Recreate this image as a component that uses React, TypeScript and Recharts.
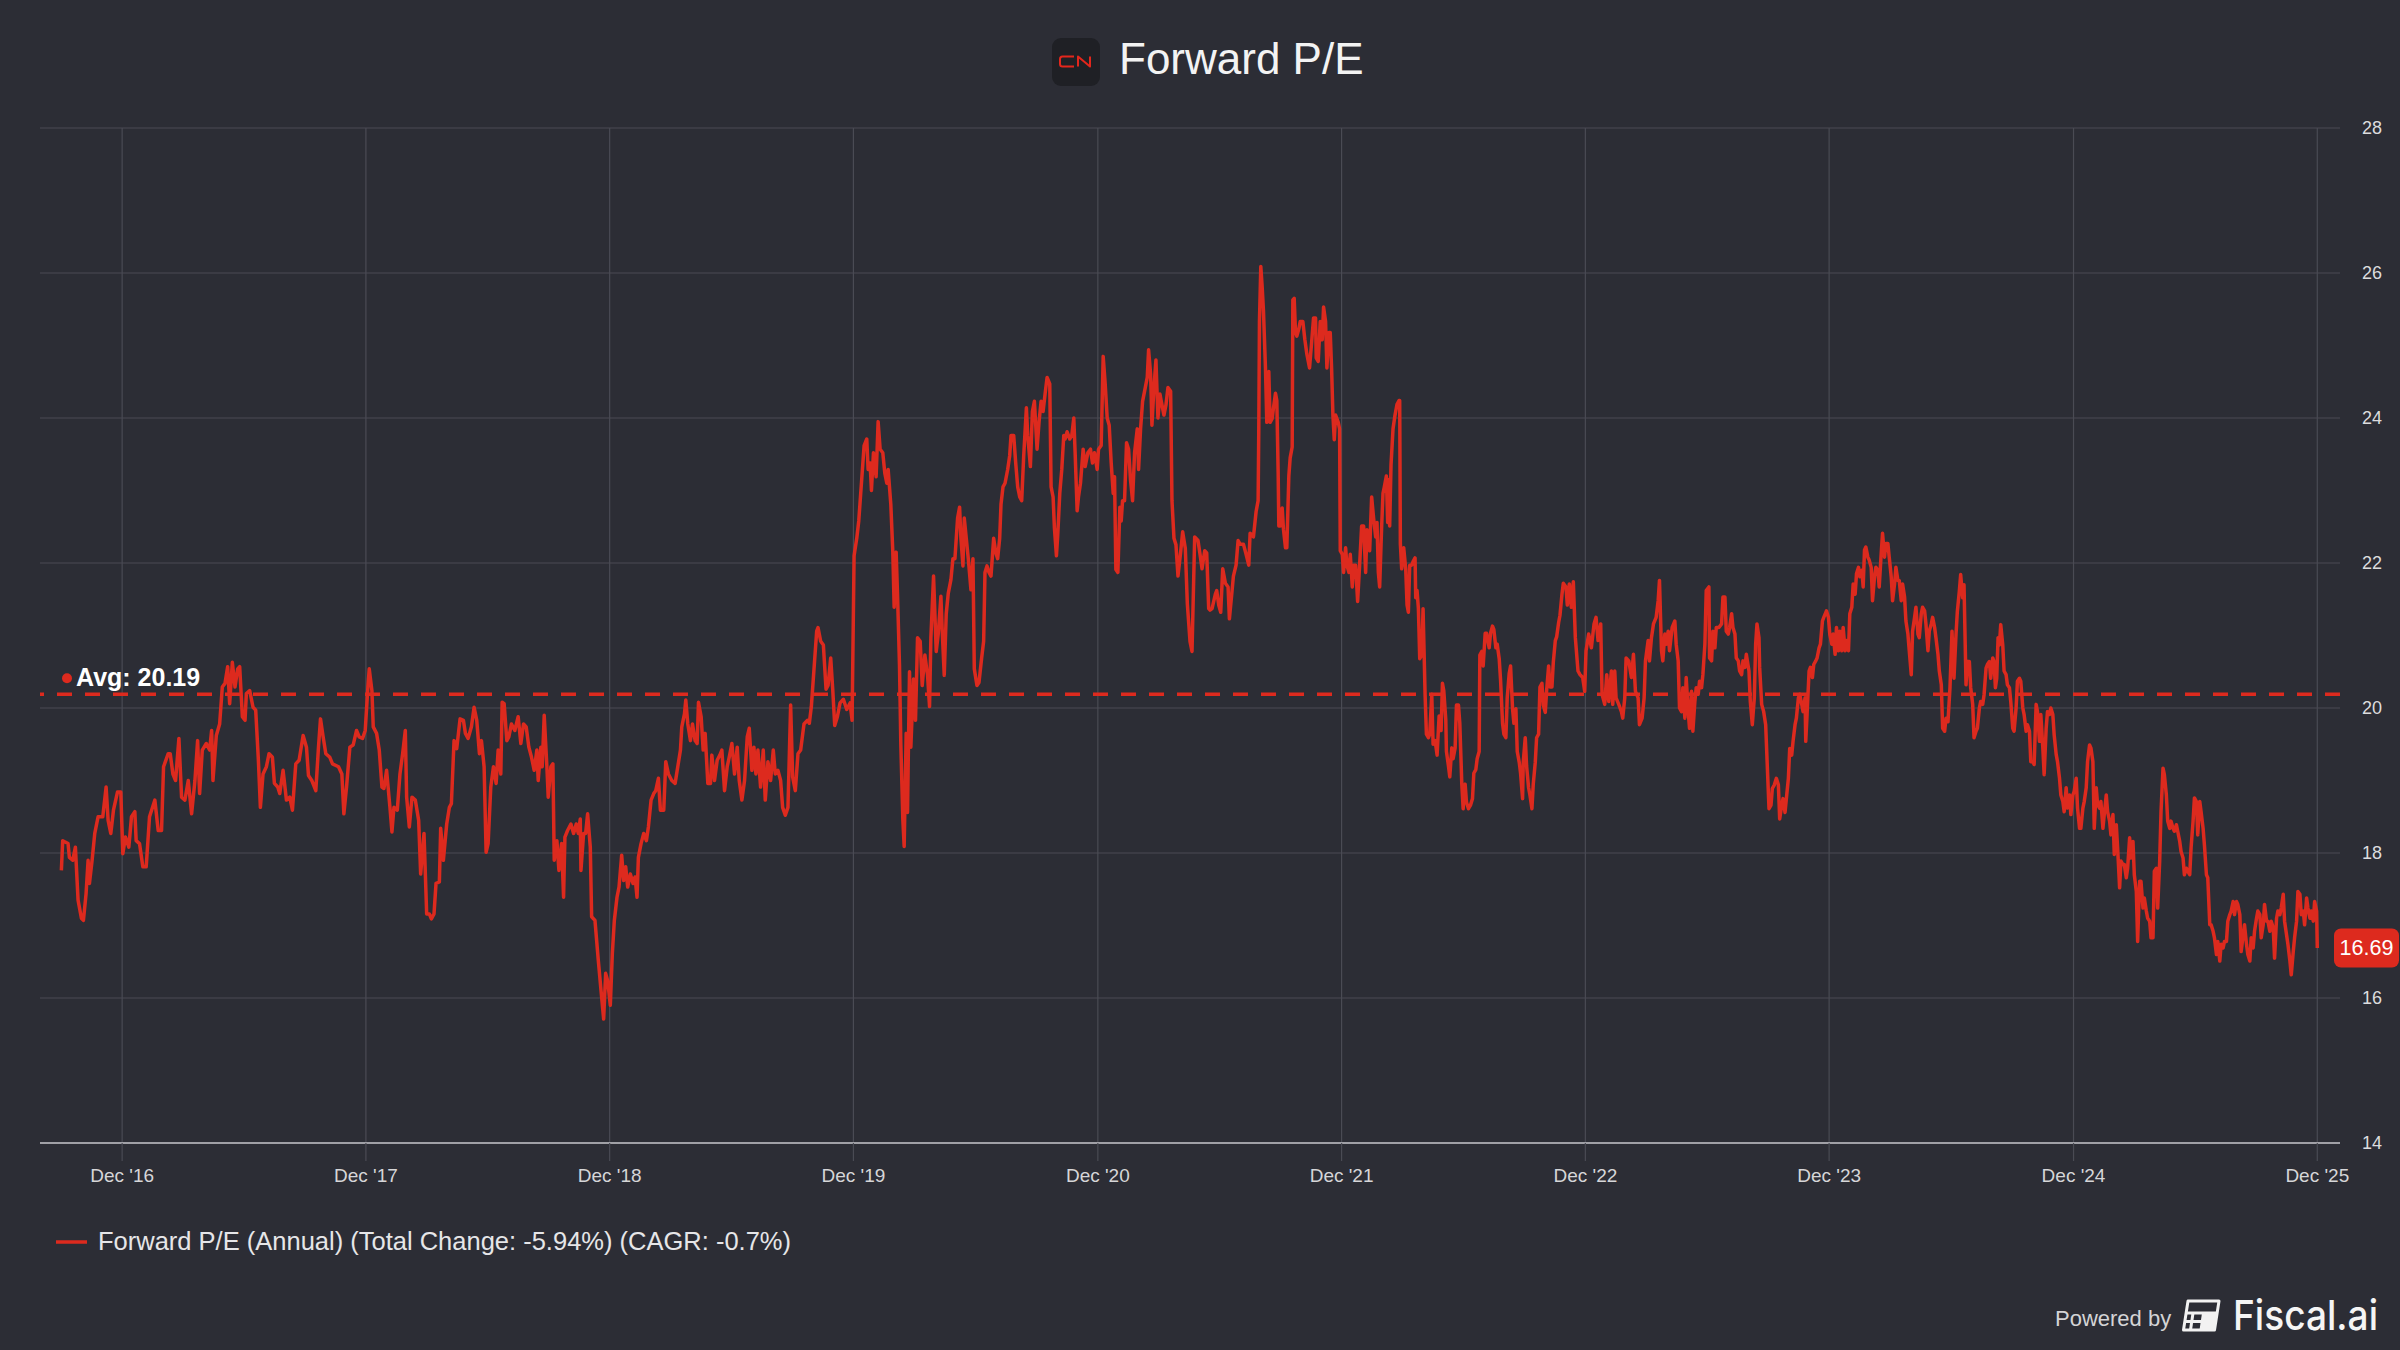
import React from "react";
import { LineChart, Line, XAxis, YAxis, CartesianGrid, ReferenceLine } from "recharts";

const BG = "#2c2d35";
const RED = "#dd2a1e";
const GRID = "#4a4b54";
const FONT = "'Liberation Sans', Arial, Helvetica, sans-serif";

const pe2016: [string, number][] = [
  ["2016-09-01", 17.76], ["2016-09-03", 18.17], ["2016-09-11", 18.13], ["2016-09-13", 17.94], ["2016-09-18", 17.9],
  ["2016-09-22", 18.08], ["2016-09-26", 17.35], ["2016-10-01", 17.1], ["2016-10-04", 17.07], ["2016-10-08", 17.44],
  ["2016-10-11", 17.9], ["2016-10-13", 17.58], ["2016-10-17", 17.9], ["2016-10-21", 18.27], ["2016-10-26", 18.5],
  ["2016-11-02", 18.5], ["2016-11-07", 18.91], ["2016-11-10", 18.45], ["2016-11-14", 18.27], ["2016-11-18", 18.59],
  ["2016-11-24", 18.84], ["2016-11-29", 18.84], ["2016-12-02", 17.99], ["2016-12-06", 18.22], ["2016-12-11", 18.08],
  ["2016-12-15", 18.5], ["2016-12-20", 18.57], ["2016-12-22", 18.17], ["2016-12-27", 18.13],
];

const pe2017: [string, number][] = [
  ["2017-01-01", 17.81], ["2017-01-06", 17.81], ["2017-01-11", 18.5], ["2017-01-19", 18.73], ["2017-01-24", 18.31],
  ["2017-01-29", 18.31], ["2017-02-01", 19.19], ["2017-02-08", 19.37], ["2017-02-11", 19.37], ["2017-02-15", 19.09],
  ["2017-02-19", 19.0], ["2017-02-24", 19.58], ["2017-02-28", 18.77], ["2017-03-05", 18.73], ["2017-03-10", 19.0],
  ["2017-03-15", 18.54], ["2017-03-20", 19.0], ["2017-03-24", 19.55], ["2017-03-27", 18.82], ["2017-03-31", 19.42],
  ["2017-04-06", 19.51], ["2017-04-11", 19.42], ["2017-04-14", 19.69], ["2017-04-16", 19.0], ["2017-04-21", 19.62],
  ["2017-04-26", 19.78], ["2017-04-30", 20.29], ["2017-05-04", 20.34], ["2017-05-08", 20.57], ["2017-05-11", 20.06],
  ["2017-05-15", 20.63], ["2017-05-19", 20.29], ["2017-05-23", 20.54], ["2017-05-26", 20.57], ["2017-05-30", 19.88],
  ["2017-06-03", 19.83], ["2017-06-05", 20.2], ["2017-06-10", 20.24], ["2017-06-15", 20.01], ["2017-06-19", 19.97],
  ["2017-06-23", 19.28], ["2017-06-26", 18.63], ["2017-06-30", 19.09], ["2017-07-05", 19.19], ["2017-07-09", 19.37],
  ["2017-07-14", 19.32], ["2017-07-17", 18.96], ["2017-07-22", 18.91], ["2017-07-25", 18.82], ["2017-07-30", 19.14],
  ["2017-08-04", 18.73], ["2017-08-09", 18.77], ["2017-08-13", 18.59], ["2017-08-18", 19.23], ["2017-08-23", 19.28],
  ["2017-08-29", 19.62], ["2017-09-03", 19.46], ["2017-09-06", 19.07], ["2017-09-11", 19.0], ["2017-09-17", 18.86],
  ["2017-09-21", 19.46], ["2017-09-24", 19.85], ["2017-09-28", 19.6], ["2017-10-02", 19.37], ["2017-10-08", 19.32],
  ["2017-10-12", 19.23], ["2017-10-21", 19.19], ["2017-10-26", 19.09], ["2017-10-29", 18.54], ["2017-11-02", 18.91],
  ["2017-11-07", 19.46], ["2017-11-12", 19.49], ["2017-11-17", 19.69], ["2017-11-21", 19.6], ["2017-11-26", 19.58],
  ["2017-11-30", 19.69], ["2017-12-04", 20.29], ["2017-12-06", 20.54], ["2017-12-10", 20.24], ["2017-12-12", 19.74],
  ["2017-12-17", 19.65], ["2017-12-21", 19.42], ["2017-12-25", 18.91], ["2017-12-28", 18.89],
];

const pe2018: [string, number][] = [
  ["2018-01-01", 19.14], ["2018-01-06", 18.63], ["2018-01-09", 18.29], ["2018-01-12", 18.63], ["2018-01-17", 18.59],
  ["2018-01-21", 19.09], ["2018-01-25", 19.37], ["2018-01-29", 19.69], ["2018-01-31", 18.77], ["2018-02-04", 18.36],
  ["2018-02-08", 18.77], ["2018-02-13", 18.73], ["2018-02-18", 18.45], ["2018-02-21", 17.71], ["2018-02-26", 18.27],
  ["2018-03-02", 17.16], ["2018-03-06", 17.16], ["2018-03-09", 17.09], ["2018-03-13", 17.16], ["2018-03-16", 17.58],
  ["2018-03-21", 17.6], ["2018-03-23", 18.34], ["2018-03-27", 17.9], ["2018-04-01", 18.4], ["2018-04-05", 18.63],
  ["2018-04-08", 18.68], ["2018-04-12", 19.55], ["2018-04-16", 19.44], ["2018-04-21", 19.85], ["2018-04-26", 19.83],
  ["2018-04-29", 19.65], ["2018-05-03", 19.58], ["2018-05-08", 19.74], ["2018-05-12", 20.01], ["2018-05-16", 19.83],
  ["2018-05-20", 19.37], ["2018-05-23", 19.55], ["2018-05-27", 19.19], ["2018-05-30", 18.01], ["2018-06-02", 18.13],
  ["2018-06-06", 18.91], ["2018-06-10", 19.19], ["2018-06-14", 18.96], ["2018-06-17", 19.42], ["2018-06-21", 19.09],
  ["2018-06-23", 20.08], ["2018-06-26", 20.06], ["2018-06-30", 19.55], ["2018-07-03", 19.6], ["2018-07-07", 19.78],
  ["2018-07-12", 19.69], ["2018-07-17", 19.88], ["2018-07-21", 19.51], ["2018-07-25", 19.78], ["2018-07-29", 19.74],
  ["2018-08-02", 19.46], ["2018-08-06", 19.32], ["2018-08-10", 19.14], ["2018-08-14", 19.42], ["2018-08-16", 19.0],
  ["2018-08-20", 19.46], ["2018-08-22", 19.19], ["2018-08-25", 19.9], ["2018-08-29", 19.19], ["2018-08-31", 18.77],
  ["2018-09-04", 19.19], ["2018-09-07", 19.23], ["2018-09-09", 17.9], ["2018-09-13", 18.17], ["2018-09-16", 17.76],
  ["2018-09-20", 18.13], ["2018-09-23", 17.39], ["2018-09-25", 18.22], ["2018-09-29", 18.31], ["2018-10-04", 18.4],
  ["2018-10-08", 18.27], ["2018-10-12", 18.4], ["2018-10-15", 18.27], ["2018-10-18", 18.47], ["2018-10-19", 17.76],
  ["2018-10-23", 18.27], ["2018-10-26", 18.27], ["2018-10-29", 18.54], ["2018-11-02", 18.08], ["2018-11-04", 17.12],
  ["2018-11-09", 17.07], ["2018-11-14", 16.52], ["2018-11-18", 16.11], ["2018-11-22", 15.71], ["2018-11-25", 16.34],
  ["2018-11-28", 16.24], ["2018-12-02", 15.9], ["2018-12-05", 16.61], ["2018-12-08", 17.07], ["2018-12-12", 17.39],
  ["2018-12-15", 17.53], ["2018-12-19", 17.97], ["2018-12-22", 17.62], ["2018-12-25", 17.81], ["2018-12-28", 17.53],
];

const pe2019: [string, number][] = [
  ["2019-01-01", 17.71], ["2019-01-05", 17.58], ["2019-01-08", 17.67], ["2019-01-11", 17.39], ["2019-01-13", 17.94],
  ["2019-01-17", 18.13], ["2019-01-21", 18.27], ["2019-01-25", 18.17], ["2019-01-28", 18.36], ["2019-02-01", 18.73],
  ["2019-02-05", 18.82], ["2019-02-08", 18.86], ["2019-02-12", 19.03], ["2019-02-15", 18.59], ["2019-02-20", 18.59],
  ["2019-02-23", 19.26], ["2019-02-27", 19.09], ["2019-03-04", 19.0], ["2019-03-09", 18.96], ["2019-03-13", 19.19],
  ["2019-03-17", 19.42], ["2019-03-19", 19.74], ["2019-03-23", 19.92], ["2019-03-25", 20.11], ["2019-03-28", 19.78],
  ["2019-04-01", 19.55], ["2019-04-04", 19.78], ["2019-04-08", 19.55], ["2019-04-11", 19.51], ["2019-04-13", 20.08],
  ["2019-04-17", 19.88], ["2019-04-20", 19.42], ["2019-04-23", 19.65], ["2019-04-27", 18.96], ["2019-05-01", 18.96],
  ["2019-05-03", 19.35], ["2019-05-07", 19.0], ["2019-05-11", 19.28], ["2019-05-15", 19.35], ["2019-05-18", 19.42],
  ["2019-05-22", 18.86], ["2019-05-26", 19.19], ["2019-05-29", 19.32], ["2019-06-02", 19.51], ["2019-06-06", 19.09],
  ["2019-06-10", 19.46], ["2019-06-13", 19.0], ["2019-06-17", 18.73], ["2019-06-21", 19.0], ["2019-06-25", 19.6],
  ["2019-06-28", 19.72], ["2019-07-02", 19.14], ["2019-07-05", 19.46], ["2019-07-08", 19.09], ["2019-07-11", 19.42],
  ["2019-07-15", 18.91], ["2019-07-19", 19.42], ["2019-07-22", 18.73], ["2019-07-26", 19.26], ["2019-07-30", 19.0],
  ["2019-08-03", 19.42], ["2019-08-06", 19.09], ["2019-08-10", 19.14], ["2019-08-14", 19.0], ["2019-08-17", 18.63],
  ["2019-08-21", 18.52], ["2019-08-25", 18.63], ["2019-08-29", 20.04], ["2019-09-01", 19.05], ["2019-09-05", 18.86],
  ["2019-09-09", 19.37], ["2019-09-13", 19.42], ["2019-09-18", 19.78], ["2019-09-23", 19.83], ["2019-09-26", 19.79],
  ["2019-09-29", 20.02], ["2019-10-03", 20.54], ["2019-10-07", 21.06], ["2019-10-09", 21.11], ["2019-10-13", 20.92],
  ["2019-10-17", 20.87], ["2019-10-21", 20.26], ["2019-10-24", 20.31], ["2019-10-28", 20.69], ["2019-10-31", 20.26],
  ["2019-11-03", 19.76], ["2019-11-07", 19.88], ["2019-11-11", 20.07], ["2019-11-16", 20.12], ["2019-11-21", 19.98],
  ["2019-11-26", 20.07], ["2019-11-29", 19.83], ["2019-12-02", 22.1], ["2019-12-06", 22.34], ["2019-12-09", 22.58],
  ["2019-12-13", 23.1], ["2019-12-17", 23.62], ["2019-12-21", 23.71], ["2019-12-23", 23.29], ["2019-12-26", 23.38],
  ["2019-12-28", 23.0], ["2019-12-31", 23.52],
];

const pe2020: [string, number][] = [
  ["2020-01-04", 23.19], ["2020-01-07", 23.95], ["2020-01-10", 23.57], ["2020-01-14", 23.52], ["2020-01-17", 23.24],
  ["2020-01-20", 23.1], ["2020-01-22", 23.29], ["2020-01-26", 22.81], ["2020-01-29", 22.15], ["2020-01-31", 21.39],
  ["2020-02-03", 22.15], ["2020-02-05", 21.58], ["2020-02-08", 20.59], ["2020-02-10", 19.5], ["2020-02-13", 18.46],
  ["2020-02-15", 18.09], ["2020-02-18", 19.65], ["2020-02-20", 18.56], ["2020-02-23", 20.5], ["2020-02-25", 19.46],
  ["2020-02-29", 20.4], ["2020-03-03", 19.83], ["2020-03-06", 20.97], ["2020-03-10", 20.92], ["2020-03-13", 20.31],
  ["2020-03-17", 20.73], ["2020-03-21", 20.45], ["2020-03-24", 20.02], ["2020-03-26", 20.97], ["2020-03-30", 21.82],
  ["2020-04-03", 20.78], ["2020-04-06", 21.02], ["2020-04-10", 21.54], ["2020-04-12", 21.06], ["2020-04-15", 20.45],
  ["2020-04-18", 21.3], ["2020-04-21", 21.58], ["2020-04-25", 21.77], ["2020-04-28", 22.06], ["2020-05-01", 22.06],
  ["2020-05-05", 22.62], ["2020-05-08", 22.77], ["2020-05-10", 22.34], ["2020-05-13", 21.96], ["2020-05-15", 22.62],
  ["2020-05-18", 22.34], ["2020-05-21", 22.06], ["2020-05-25", 21.63], ["2020-05-28", 22.06], ["2020-05-30", 20.54],
  ["2020-06-03", 20.31], ["2020-06-06", 20.35], ["2020-06-10", 20.69], ["2020-06-13", 20.92], ["2020-06-15", 21.87],
  ["2020-06-18", 21.96], ["2020-06-21", 21.87], ["2020-06-24", 21.82], ["2020-06-28", 22.34], ["2020-07-01", 22.15],
  ["2020-07-04", 22.06], ["2020-07-07", 22.34], ["2020-07-09", 22.81], ["2020-07-12", 23.05], ["2020-07-15", 23.1],
  ["2020-07-19", 23.29], ["2020-07-22", 23.48], ["2020-07-24", 23.76], ["2020-07-28", 23.76], ["2020-07-31", 23.38],
  ["2020-08-03", 23.05], ["2020-08-06", 22.91], ["2020-08-09", 22.86], ["2020-08-12", 23.48], ["2020-08-16", 24.14],
  ["2020-08-18", 23.76], ["2020-08-22", 23.33], ["2020-08-25", 24.09], ["2020-08-28", 24.23], ["2020-09-01", 23.57],
  ["2020-09-04", 23.95], ["2020-09-07", 24.23], ["2020-09-10", 24.09], ["2020-09-13", 24.33], ["2020-09-16", 24.56],
  ["2020-09-20", 24.47], ["2020-09-22", 23.05], ["2020-09-25", 22.91], ["2020-09-27", 22.48], ["2020-09-30", 22.1],
  ["2020-10-02", 22.39], ["2020-10-05", 22.96], ["2020-10-08", 23.29], ["2020-10-11", 23.76], ["2020-10-13", 23.71],
  ["2020-10-16", 23.81], ["2020-10-20", 23.71], ["2020-10-23", 23.76], ["2020-10-26", 24.0], ["2020-10-28", 23.52],
  ["2020-10-31", 22.72], ["2020-11-02", 22.91], ["2020-11-05", 23.1], ["2020-11-09", 23.57], ["2020-11-12", 23.33],
  ["2020-11-16", 23.52], ["2020-11-20", 23.57], ["2020-11-23", 23.38], ["2020-11-26", 23.52], ["2020-11-30", 23.29],
  ["2020-12-02", 23.57], ["2020-12-06", 23.62], ["2020-12-09", 24.85], ["2020-12-12", 24.47], ["2020-12-15", 24.0],
  ["2020-12-18", 23.9], ["2020-12-21", 23.38], ["2020-12-24", 22.96], ["2020-12-26", 23.19], ["2020-12-28", 21.91],
  ["2020-12-31", 21.87],
];

const pe2021: [string, number][] = [
  ["2021-01-03", 22.77], ["2021-01-05", 22.58], ["2021-01-07", 22.86], ["2021-01-10", 22.86], ["2021-01-13", 23.66],
  ["2021-01-16", 23.57], ["2021-01-19", 23.14], ["2021-01-22", 22.86], ["2021-01-25", 23.52], ["2021-01-29", 23.85],
  ["2021-01-31", 23.29], ["2021-02-03", 23.85], ["2021-02-06", 24.23], ["2021-02-09", 24.37], ["2021-02-13", 24.56],
  ["2021-02-15", 24.94], ["2021-02-18", 24.61], ["2021-02-20", 23.9], ["2021-02-23", 24.42], ["2021-02-26", 24.8],
  ["2021-03-01", 24.0], ["2021-03-04", 24.33], ["2021-03-06", 24.23], ["2021-03-10", 24.04], ["2021-03-13", 24.18],
  ["2021-03-16", 24.42], ["2021-03-20", 24.37], ["2021-03-22", 22.86], ["2021-03-25", 22.34], ["2021-03-28", 22.25],
  ["2021-03-31", 21.82], ["2021-04-04", 22.15], ["2021-04-07", 22.43], ["2021-04-11", 22.2], ["2021-04-14", 21.44],
  ["2021-04-18", 20.92], ["2021-04-21", 20.78], ["2021-04-25", 22.36], ["2021-04-30", 22.31], ["2021-05-03", 22.12],
  ["2021-05-06", 21.92], ["2021-05-10", 22.17], ["2021-05-13", 22.14], ["2021-05-16", 21.37], ["2021-05-18", 21.35],
  ["2021-05-21", 21.37], ["2021-05-26", 21.57], ["2021-05-28", 21.62], ["2021-05-31", 21.42], ["2021-06-03", 21.32],
  ["2021-06-06", 21.92], ["2021-06-10", 21.72], ["2021-06-14", 21.67], ["2021-06-16", 21.23], ["2021-06-20", 21.62],
  ["2021-06-22", 21.82], ["2021-06-26", 21.97], ["2021-06-29", 22.31], ["2021-07-02", 22.26], ["2021-07-07", 22.26],
  ["2021-07-11", 22.12], ["2021-07-15", 21.97], ["2021-07-17", 22.41], ["2021-07-22", 22.36], ["2021-07-26", 22.71],
  ["2021-07-29", 22.86], ["2021-07-30", 23.85], ["2021-07-31", 25.33], ["2021-08-02", 26.09], ["2021-08-04", 25.82],
  ["2021-08-06", 25.48], ["2021-08-09", 24.69], ["2021-08-11", 23.94], ["2021-08-14", 24.64], ["2021-08-16", 23.94],
  ["2021-08-19", 23.99], ["2021-08-21", 24.14], ["2021-08-24", 24.34], ["2021-08-26", 24.24], ["2021-08-28", 23.25],
  ["2021-08-29", 22.51], ["2021-08-31", 22.51], ["2021-09-03", 22.76], ["2021-09-05", 22.46], ["2021-09-08", 22.21],
  ["2021-09-10", 22.21], ["2021-09-13", 23.2], ["2021-09-15", 23.45], ["2021-09-18", 23.6], ["2021-09-19", 25.63],
  ["2021-09-21", 25.65], ["2021-09-23", 25.18], ["2021-09-25", 25.13], ["2021-09-28", 25.23], ["2021-09-30", 25.33],
  ["2021-10-04", 25.33], ["2021-10-07", 25.08], ["2021-10-10", 24.88], ["2021-10-14", 24.69], ["2021-10-17", 25.03],
  ["2021-10-20", 25.38], ["2021-10-23", 25.38], ["2021-10-24", 24.83], ["2021-10-27", 24.78], ["2021-10-30", 25.33],
  ["2021-11-02", 25.08], ["2021-11-04", 25.53], ["2021-11-07", 25.33], ["2021-11-09", 24.69], ["2021-11-12", 25.18],
  ["2021-11-14", 25.18], ["2021-11-16", 24.69], ["2021-11-18", 24.04], ["2021-11-20", 23.7], ["2021-11-22", 24.04],
  ["2021-11-26", 23.94], ["2021-11-28", 23.85], ["2021-11-29", 22.17], ["2021-12-02", 22.12], ["2021-12-04", 21.87],
  ["2021-12-07", 22.21], ["2021-12-09", 21.97], ["2021-12-12", 21.87], ["2021-12-14", 22.12], ["2021-12-17", 21.67],
  ["2021-12-19", 21.97], ["2021-12-22", 21.97], ["2021-12-25", 21.47], ["2021-12-28", 21.97], ["2021-12-31", 22.51],
];

const pe2022: [string, number][] = [
  ["2022-01-03", 22.51], ["2022-01-06", 21.87], ["2022-01-08", 22.46], ["2022-01-12", 22.17], ["2022-01-15", 22.91],
  ["2022-01-18", 22.61], ["2022-01-21", 22.36], ["2022-01-23", 22.56], ["2022-01-25", 21.87], ["2022-01-27", 21.67],
  ["2022-01-30", 22.51], ["2022-02-01", 22.96], ["2022-02-03", 23.05], ["2022-02-06", 23.2], ["2022-02-08", 22.56],
  ["2022-02-10", 23.15], ["2022-02-11", 22.51], ["2022-02-13", 23.35], ["2022-02-16", 23.85], ["2022-02-19", 24.04],
  ["2022-02-22", 24.19], ["2022-02-25", 24.24], ["2022-02-26", 24.24], ["2022-02-27", 22.26], ["2022-03-01", 21.92],
  ["2022-03-04", 22.21], ["2022-03-07", 21.92], ["2022-03-09", 21.42], ["2022-03-11", 21.32], ["2022-03-13", 21.97],
  ["2022-03-16", 21.97], ["2022-03-18", 22.02], ["2022-03-21", 22.07], ["2022-03-22", 21.52], ["2022-03-24", 21.62],
  ["2022-03-26", 21.37], ["2022-03-28", 20.68], ["2022-03-31", 20.73], ["2022-04-02", 21.37], ["2022-04-05", 20.19],
  ["2022-04-07", 19.64], ["2022-04-10", 19.59], ["2022-04-12", 19.64], ["2022-04-15", 20.19], ["2022-04-17", 19.5],
  ["2022-04-20", 19.55], ["2022-04-23", 19.35], ["2022-04-26", 19.89], ["2022-04-29", 19.69], ["2022-05-01", 20.34],
  ["2022-05-03", 20.24], ["2022-05-06", 19.84], ["2022-05-07", 19.4], ["2022-05-10", 19.2], ["2022-05-12", 19.05],
  ["2022-05-15", 19.45], ["2022-05-17", 19.3], ["2022-05-20", 19.45], ["2022-05-22", 20.04], ["2022-05-25", 20.04],
  ["2022-05-27", 19.79], ["2022-05-30", 18.95], ["2022-06-01", 18.61], ["2022-06-04", 18.95], ["2022-06-06", 18.7],
  ["2022-06-09", 18.61], ["2022-06-12", 18.66], ["2022-06-15", 18.75], ["2022-06-17", 19.1], ["2022-06-20", 19.15],
  ["2022-06-22", 19.3], ["2022-06-25", 19.4], ["2022-06-26", 20.73], ["2022-06-29", 20.78], ["2022-07-01", 20.58],
  ["2022-07-04", 21.03], ["2022-07-06", 21.03], ["2022-07-10", 20.83], ["2022-07-12", 21.03], ["2022-07-15", 21.13],
  ["2022-07-17", 21.08], ["2022-07-20", 20.83], ["2022-07-22", 20.88], ["2022-07-25", 20.68], ["2022-07-27", 20.39],
  ["2022-07-30", 19.79], ["2022-08-01", 19.64], ["2022-08-04", 19.59], ["2022-08-06", 20.14], ["2022-08-09", 20.48],
  ["2022-08-11", 20.58], ["2022-08-14", 19.99], ["2022-08-16", 19.79], ["2022-08-19", 19.99], ["2022-08-21", 19.4],
  ["2022-08-24", 19.25], ["2022-08-26", 19.1], ["2022-08-29", 18.75], ["2022-08-30", 19.25], ["2022-09-02", 19.59],
  ["2022-09-04", 19.2], ["2022-09-07", 18.9], ["2022-09-09", 18.8], ["2022-09-12", 18.61], ["2022-09-14", 18.95],
  ["2022-09-17", 19.25], ["2022-09-19", 19.59], ["2022-09-22", 19.64], ["2022-09-24", 20.29], ["2022-09-27", 20.34],
  ["2022-09-29", 20.04], ["2022-10-02", 19.94], ["2022-10-04", 20.24], ["2022-10-07", 20.58], ["2022-10-09", 20.29],
  ["2022-10-12", 20.29], ["2022-10-14", 20.63], ["2022-10-17", 20.93], ["2022-10-19", 20.98], ["2022-10-22", 21.18],
  ["2022-10-24", 21.28], ["2022-10-27", 21.57], ["2022-10-29", 21.72], ["2022-11-02", 21.67], ["2022-11-04", 21.42],
  ["2022-11-07", 21.71], ["2022-11-10", 21.39], ["2022-11-13", 21.74], ["2022-11-16", 20.97], ["2022-11-20", 20.51],
  ["2022-11-23", 20.46], ["2022-11-27", 20.42], ["2022-11-30", 20.23], ["2022-12-02", 20.79], ["2022-12-06", 21.02],
  ["2022-12-10", 20.83], ["2022-12-14", 21.16], ["2022-12-17", 21.25], ["2022-12-20", 20.93], ["2022-12-24", 21.16],
  ["2022-12-26", 20.19], ["2022-12-30", 20.05],
];

const pe2023: [string, number][] = [
  ["2023-01-02", 20.46], ["2023-01-05", 20.09], ["2023-01-09", 20.51], ["2023-01-11", 20.05], ["2023-01-14", 20.51],
  ["2023-01-16", 20.14], ["2023-01-20", 20.05], ["2023-01-24", 19.95], ["2023-01-26", 19.86], ["2023-01-29", 20.14],
  ["2023-01-31", 20.69], ["2023-02-04", 20.65], ["2023-02-08", 20.42], ["2023-02-11", 20.74], ["2023-02-14", 20.23],
  ["2023-02-18", 20.14], ["2023-02-20", 19.77], ["2023-02-24", 19.86], ["2023-02-27", 20.14], ["2023-03-01", 20.65],
  ["2023-03-05", 20.93], ["2023-03-07", 20.65], ["2023-03-10", 20.97], ["2023-03-13", 21.16], ["2023-03-17", 21.25],
  ["2023-03-20", 21.48], ["2023-03-22", 21.76], ["2023-03-25", 20.79], ["2023-03-27", 20.65], ["2023-03-30", 21.02],
  ["2023-04-01", 20.88], ["2023-04-04", 21.06], ["2023-04-06", 20.79], ["2023-04-10", 21.11], ["2023-04-14", 21.2],
  ["2023-04-16", 20.88], ["2023-04-19", 20.65], ["2023-04-21", 20.0], ["2023-04-24", 19.95], ["2023-04-26", 20.28],
  ["2023-04-29", 19.86], ["2023-05-01", 20.42], ["2023-05-04", 19.95], ["2023-05-06", 19.72], ["2023-05-09", 20.23],
  ["2023-05-11", 19.68], ["2023-05-14", 20.09], ["2023-05-16", 20.28], ["2023-05-19", 20.19], ["2023-05-21", 20.37],
  ["2023-05-24", 20.28], ["2023-05-26", 20.46], ["2023-05-29", 20.88], ["2023-05-31", 21.62], ["2023-06-04", 21.67],
  ["2023-06-05", 20.69], ["2023-06-08", 20.65], ["2023-06-10", 21.06], ["2023-06-13", 20.83], ["2023-06-15", 21.11],
  ["2023-06-19", 21.11], ["2023-06-23", 21.16], ["2023-06-25", 21.53], ["2023-06-28", 21.53], ["2023-06-30", 21.06],
  ["2023-07-03", 21.02], ["2023-07-05", 21.11], ["2023-07-08", 21.3], ["2023-07-10", 21.11], ["2023-07-13", 21.02],
  ["2023-07-15", 20.69], ["2023-07-18", 20.65], ["2023-07-20", 20.51], ["2023-07-23", 20.46], ["2023-07-25", 20.65],
  ["2023-07-28", 20.56], ["2023-07-30", 20.74], ["2023-08-03", 20.51], ["2023-08-05", 20.09], ["2023-08-08", 19.77],
  ["2023-08-11", 20.14], ["2023-08-13", 20.88], ["2023-08-15", 21.16], ["2023-08-18", 20.97], ["2023-08-19", 20.56],
  ["2023-08-22", 20.05], ["2023-08-25", 19.95], ["2023-08-28", 19.77], ["2023-08-31", 19.07], ["2023-09-02", 18.61],
  ["2023-09-05", 18.66], ["2023-09-07", 18.89], ["2023-09-10", 18.94], ["2023-09-13", 19.03], ["2023-09-16", 18.94],
  ["2023-09-18", 18.47], ["2023-09-21", 18.66], ["2023-09-23", 18.75], ["2023-09-26", 18.56], ["2023-09-28", 18.75],
  ["2023-10-01", 19.03], ["2023-10-03", 19.44], ["2023-10-06", 19.35], ["2023-10-08", 19.54], ["2023-10-11", 19.77],
  ["2023-10-13", 19.86], ["2023-10-16", 20.14], ["2023-10-18", 20.19], ["2023-10-21", 20.05], ["2023-10-23", 19.95],
  ["2023-10-26", 20.14], ["2023-10-27", 19.54], ["2023-10-29", 19.91], ["2023-11-01", 20.51], ["2023-11-03", 20.56],
  ["2023-11-06", 20.42], ["2023-11-08", 20.6], ["2023-11-11", 20.65], ["2023-11-13", 20.69], ["2023-11-16", 20.83],
  ["2023-11-18", 20.88], ["2023-11-21", 21.2], ["2023-11-23", 21.25], ["2023-11-27", 21.34], ["2023-11-30", 21.25],
  ["2023-12-02", 21.02], ["2023-12-05", 20.88], ["2023-12-07", 21.02], ["2023-12-10", 20.74], ["2023-12-12", 21.11],
  ["2023-12-15", 20.79], ["2023-12-17", 21.06], ["2023-12-20", 20.79], ["2023-12-22", 21.11], ["2023-12-25", 20.79],
  ["2023-12-27", 20.93], ["2023-12-30", 20.79],
];

const pe2024: [string, number][] = [
  ["2024-01-01", 21.3], ["2024-01-04", 21.39], ["2024-01-06", 21.71], ["2024-01-09", 21.57], ["2024-01-11", 21.85],
  ["2024-01-14", 21.94], ["2024-01-16", 21.81], ["2024-01-19", 21.9], ["2024-01-21", 21.67], ["2024-01-23", 22.18],
  ["2024-01-25", 22.22], ["2024-01-28", 22.08], ["2024-01-30", 22.04], ["2024-02-02", 21.94], ["2024-02-04", 21.48],
  ["2024-02-07", 21.81], ["2024-02-09", 21.94], ["2024-02-12", 21.9], ["2024-02-14", 21.67], ["2024-02-17", 22.13],
  ["2024-02-19", 22.41], ["2024-02-22", 22.08], ["2024-02-24", 22.27], ["2024-02-27", 22.27], ["2024-02-29", 22.08],
  ["2024-03-03", 21.81], ["2024-03-05", 21.48], ["2024-03-08", 21.71], ["2024-03-10", 21.94], ["2024-03-13", 21.76],
  ["2024-03-15", 21.76], ["2024-03-18", 21.48], ["2024-03-20", 21.71], ["2024-03-23", 21.53], ["2024-03-25", 21.2],
  ["2024-03-28", 21.02], ["2024-03-30", 20.79], ["2024-04-02", 20.46], ["2024-04-04", 21.06], ["2024-04-07", 21.25],
  ["2024-04-09", 21.39], ["2024-04-12", 21.02], ["2024-04-14", 20.97], ["2024-04-17", 21.3], ["2024-04-19", 21.39],
  ["2024-04-22", 21.34], ["2024-04-24", 21.16], ["2024-04-27", 20.79], ["2024-04-29", 21.06], ["2024-05-02", 21.16],
  ["2024-05-04", 21.25], ["2024-05-07", 21.11], ["2024-05-09", 20.97], ["2024-05-12", 20.74], ["2024-05-14", 20.51],
  ["2024-05-17", 20.32], ["2024-05-19", 19.72], ["2024-05-22", 19.68], ["2024-05-24", 19.86], ["2024-05-27", 19.81],
  ["2024-05-30", 20.28], ["2024-06-02", 21.06], ["2024-06-05", 20.41], ["2024-06-08", 21.01], ["2024-06-10", 21.33],
  ["2024-06-13", 21.61], ["2024-06-15", 21.84], ["2024-06-18", 21.52], ["2024-06-20", 21.7], ["2024-06-23", 20.32],
  ["2024-06-25", 20.64], ["2024-06-28", 20.64], ["2024-06-30", 20.28], ["2024-07-03", 20.05], ["2024-07-05", 19.59],
  ["2024-07-08", 19.68], ["2024-07-10", 19.72], ["2024-07-13", 20.0], ["2024-07-15", 20.09], ["2024-07-18", 20.05],
  ["2024-07-20", 20.18], ["2024-07-23", 20.55], ["2024-07-25", 20.6], ["2024-07-28", 20.64], ["2024-07-30", 20.41],
  ["2024-08-02", 20.69], ["2024-08-04", 20.64], ["2024-08-06", 20.28], ["2024-08-08", 20.41], ["2024-08-10", 20.97],
  ["2024-08-12", 20.87], ["2024-08-14", 21.15], ["2024-08-17", 20.87], ["2024-08-19", 20.51], ["2024-08-22", 20.46],
  ["2024-08-24", 20.32], ["2024-08-27", 20.28], ["2024-08-29", 20.09], ["2024-09-01", 19.72], ["2024-09-03", 19.68],
  ["2024-09-06", 20.0], ["2024-09-08", 20.37], ["2024-09-11", 20.41], ["2024-09-13", 20.37], ["2024-09-16", 20.0],
  ["2024-09-18", 19.91], ["2024-09-21", 19.68], ["2024-09-23", 19.77], ["2024-09-26", 19.68], ["2024-09-28", 19.26],
  ["2024-10-01", 19.26], ["2024-10-03", 19.22], ["2024-10-06", 20.05], ["2024-10-08", 19.95], ["2024-10-11", 19.54],
  ["2024-10-13", 19.91], ["2024-10-16", 19.45], ["2024-10-18", 19.08], ["2024-10-21", 19.72], ["2024-10-23", 19.95],
  ["2024-10-26", 19.91], ["2024-10-28", 20.0], ["2024-10-31", 19.91], ["2024-11-02", 19.63], ["2024-11-05", 19.36],
  ["2024-11-07", 19.26], ["2024-11-10", 19.03], ["2024-11-12", 18.8], ["2024-11-15", 18.71], ["2024-11-17", 18.57],
  ["2024-11-20", 18.9], ["2024-11-22", 18.62], ["2024-11-25", 18.8], ["2024-11-27", 18.53], ["2024-11-30", 18.8],
  ["2024-12-02", 18.85], ["2024-12-05", 19.03], ["2024-12-07", 18.62], ["2024-12-10", 18.34], ["2024-12-12", 18.34],
  ["2024-12-15", 18.62], ["2024-12-17", 18.71], ["2024-12-20", 18.9], ["2024-12-22", 19.26], ["2024-12-25", 19.49],
  ["2024-12-27", 19.45], ["2024-12-30", 19.26],
];

const pe2025: [string, number][] = [
  ["2025-01-01", 18.34], ["2025-01-04", 18.9], ["2025-01-06", 18.67], ["2025-01-09", 18.62], ["2025-01-11", 18.71],
  ["2025-01-14", 18.34], ["2025-01-16", 18.53], ["2025-01-19", 18.8], ["2025-01-21", 18.57], ["2025-01-24", 18.44],
  ["2025-01-26", 18.25], ["2025-01-29", 18.53], ["2025-01-31", 17.98], ["2025-02-03", 18.39], ["2025-02-05", 18.07],
  ["2025-02-08", 17.52], ["2025-02-10", 17.89], ["2025-02-13", 17.84], ["2025-02-15", 17.84], ["2025-02-18", 17.66],
  ["2025-02-20", 17.79], ["2025-02-23", 18.21], ["2025-02-25", 17.93], ["2025-02-28", 18.16], ["2025-03-02", 17.7],
  ["2025-03-05", 17.47], ["2025-03-07", 16.78], ["2025-03-10", 17.61], ["2025-03-12", 17.61], ["2025-03-15", 17.24],
  ["2025-03-17", 17.38], ["2025-03-20", 17.2], ["2025-03-22", 17.1], ["2025-03-25", 17.06], ["2025-03-27", 16.83],
  ["2025-03-30", 16.83], ["2025-04-01", 17.75], ["2025-04-04", 17.79], ["2025-04-06", 17.24], ["2025-04-09", 17.89],
  ["2025-04-11", 18.57], ["2025-04-14", 19.17], ["2025-04-16", 19.08], ["2025-04-19", 18.8], ["2025-04-21", 18.44],
  ["2025-04-24", 18.34], ["2025-04-26", 18.44], ["2025-04-29", 18.34], ["2025-05-01", 18.3], ["2025-05-04", 18.39],
  ["2025-05-06", 18.3], ["2025-05-09", 18.16], ["2025-05-11", 18.02], ["2025-05-14", 17.93], ["2025-05-16", 17.7],
  ["2025-05-19", 17.79], ["2025-05-21", 17.75], ["2025-05-24", 17.7], ["2025-05-26", 18.07], ["2025-05-29", 18.44],
  ["2025-05-31", 18.76], ["2025-06-03", 18.71], ["2025-06-05", 18.25], ["2025-06-08", 18.71], ["2025-06-10", 18.57],
  ["2025-06-13", 18.34], ["2025-06-15", 18.11], ["2025-06-18", 17.7], ["2025-06-20", 17.66], ["2025-06-23", 17.01],
  ["2025-06-25", 17.01], ["2025-06-28", 16.92], ["2025-06-30", 16.83], ["2025-07-03", 16.6], ["2025-07-05", 16.78],
  ["2025-07-08", 16.51], ["2025-07-10", 16.74], ["2025-07-13", 16.69], ["2025-07-15", 16.78], ["2025-07-18", 16.78],
  ["2025-07-20", 17.06], ["2025-07-23", 17.15], ["2025-07-25", 17.2], ["2025-07-28", 17.33], ["2025-07-30", 17.15],
  ["2025-08-02", 17.33], ["2025-08-04", 17.29], ["2025-08-07", 17.15], ["2025-08-09", 16.64], ["2025-08-12", 16.87],
  ["2025-08-14", 17.01], ["2025-08-17", 16.74], ["2025-08-19", 16.6], ["2025-08-22", 16.51], ["2025-08-24", 16.83],
  ["2025-08-27", 16.69], ["2025-08-29", 16.92], ["2025-09-01", 17.1], ["2025-09-03", 17.2], ["2025-09-06", 17.15],
  ["2025-09-08", 16.83], ["2025-09-11", 17.01], ["2025-09-13", 17.29], ["2025-09-16", 17.06], ["2025-09-18", 17.06],
  ["2025-09-21", 16.92], ["2025-09-23", 17.06], ["2025-09-26", 16.97], ["2025-09-28", 16.55], ["2025-10-01", 17.1],
  ["2025-10-03", 17.2], ["2025-10-06", 17.15], ["2025-10-08", 17.24], ["2025-10-11", 17.43], ["2025-10-13", 17.06],
  ["2025-10-16", 16.87], ["2025-10-18", 16.74], ["2025-10-21", 16.51], ["2025-10-23", 16.32], ["2025-10-26", 16.64],
  ["2025-10-28", 16.83], ["2025-10-31", 17.06], ["2025-11-02", 17.47], ["2025-11-05", 17.43], ["2025-11-07", 17.15],
  ["2025-11-10", 17.2], ["2025-11-12", 17.01], ["2025-11-15", 17.38], ["2025-11-17", 17.24], ["2025-11-20", 17.1],
  ["2025-11-22", 17.2], ["2025-11-25", 17.06], ["2025-11-27", 17.33], ["2025-11-30", 17.2], ["2025-12-01", 16.69],
];

const yTicks = [14, 16, 18, 20, 22, 24, 26, 28];
const xTickDates = [
  "2016-12-01", "2017-12-01", "2018-12-01", "2019-12-01", "2020-12-01",
  "2021-12-01", "2022-12-01", "2023-12-01", "2024-12-01", "2025-12-01",
];
const xTickLabels = ["Dec '16", "Dec '17", "Dec '18", "Dec '19", "Dec '20", "Dec '21", "Dec '22", "Dec '23", "Dec '24", "Dec '25"];
const xDomainDates = ["2016-07-31", "2026-01-04"];
const avgValue = 20.19;
const lastValue = 16.69;
const titleText = "Forward P/E";
const legendText = "Forward P/E (Annual) (Total Change: -5.94%) (CAGR: -0.7%)";

const data = [pe2016, pe2017, pe2018, pe2019, pe2020, pe2021, pe2022, pe2023, pe2024, pe2025]
  .flat()
  .map(([d, v]) => ({ t: Date.parse(d), v }));
const xTicks = xTickDates.map((d) => Date.parse(d));
const xDomain = xDomainDates.map((d) => Date.parse(d));

const AvgLabel = (props: any) => {
  const vb = props.viewBox || {};
  const x = vb.x ?? 40;
  const y = vb.y ?? 694;
  return (
    <g>
      <circle cx={x + 27} cy={y - 16} r={5} fill={RED} />
      <text x={x + 36} y={y - 8} fill="#ffffff" fontSize={25} fontWeight="bold" fontFamily={FONT}>
        {`Avg: ${avgValue.toFixed(2)}`}
      </text>
    </g>
  );
};

const LastLabel = (props: any) => {
  const vb = props.viewBox || {};
  const right = (vb.x ?? 40) + (vb.width ?? 2300);
  const y = vb.y ?? 948;
  return (
    <g>
      <rect x={right - 6} y={y - 19.5} width={65} height={39} rx={7} ry={7} fill={RED} />
      <text x={right + 26.5} y={y + 1} fill="#ffffff" fontSize={21.5} fontFamily={FONT} textAnchor="middle" dominantBaseline="middle">
        {lastValue.toFixed(2)}
      </text>
    </g>
  );
};

export default function App() {
  return (
    <div style={{ position: "absolute", left: 0, top: 0, width: 2400, height: 1350, background: BG, overflow: "hidden" }}>
      <div style={{ position: "absolute", left: 0, top: 0 }}>
        <LineChart width={2400} height={1350} data={data} margin={{ top: 128, right: 0, bottom: 147, left: 40 }}>
          <CartesianGrid stroke={GRID} strokeWidth={1.2} syncWithTicks />
          <XAxis
            dataKey="t"
            type="number"
            domain={xDomain}
            ticks={xTicks}
            interval={0}
            height={60}
            tickFormatter={(v: number) => xTickLabels[xTicks.indexOf(v)] ?? ""}
            tick={{ fill: "#d6d6d8", fontSize: 19, fontFamily: FONT }}
            tickSize={18}
            tickMargin={8}
            tickLine={{ stroke: GRID, strokeWidth: 1.2 }}
            axisLine={{ stroke: "#a0a0a6", strokeWidth: 2.2 }}
            allowDataOverflow
          />
          <YAxis
            orientation="right"
            domain={[14, 28]}
            ticks={yTicks}
            interval={0}
            width={60}
            axisLine={false}
            tickLine={false}
            tickSize={0}
            tickMargin={22}
            tick={{ fill: "#dcdcde", fontSize: 18, fontFamily: FONT }}
            allowDataOverflow
          />
          <ReferenceLine
            y={avgValue}
            stroke={RED}
            strokeWidth={3.5}
            strokeDasharray="15 13"
            label={(p: any) => <AvgLabel {...p} />}
          />
          <Line
            type="linear"
            dataKey="v"
            stroke={RED}
            strokeWidth={3.5}
            strokeLinejoin="round"
            dot={false}
            activeDot={false}
            isAnimationActive={false}
          />
          <ReferenceLine y={lastValue} stroke="none" strokeOpacity={0} label={(p: any) => <LastLabel {...p} />} />
        </LineChart>
      </div>
      <svg width={2400} height={1350} style={{ position: "absolute", left: 0, top: 0, pointerEvents: "none" }}>
        <rect x={1052} y={38} width={48} height={48} rx={9} ry={9} fill="#1f2025" />
        <path d="M1074,56.5 H1062.5 Q1060,56.5 1060,59 V64 Q1060,66.5 1062.5,66.5 H1074" fill="none" stroke="#e3261c" strokeWidth={2} />
        <path d="M1078,66.5 V56.5 L1090,66.5 V56.5" fill="none" stroke="#e3261c" strokeWidth={2} strokeLinejoin="round" />
        <text x={1119} y={74} fill="#f3f3f3" fontSize={44} fontFamily={FONT}>{titleText}</text>

        <line x1={56} x2={87} y1={1242} y2={1242} stroke={RED} strokeWidth={3.5} />
        <text x={98} y={1250} fill="#e6e6e8" fontSize={25.5} fontFamily={FONT}>{legendText}</text>

        <text x={2055} y={1326} fill="#d4d4d6" fontSize={22} fontFamily={FONT}>Powered by</text>
        <g fill="none" stroke="#f2f2f2" strokeWidth={3} strokeLinejoin="round">
          <path d="M2188,1301 H2219 L2214.5,1330 H2183.5 Z" />
          <path d="M2186,1313 H2217" />
          <path d="M2193,1313 L2190.5,1330" />
          <path d="M2185,1321.5 H2201" />
        </g>
        <path d="M2202,1313 H2217 L2214.5,1330 H2199.5 Z" fill="#f2f2f2" />
        <text x={2233} y={1330} fill="#f5f5f5" fontSize={41} fontWeight={500} fontFamily="Inter, 'Liberation Sans', Arial, sans-serif" textLength={145} lengthAdjust="spacingAndGlyphs">Fiscal.ai</text>
      </svg>
    </div>
  );
}
